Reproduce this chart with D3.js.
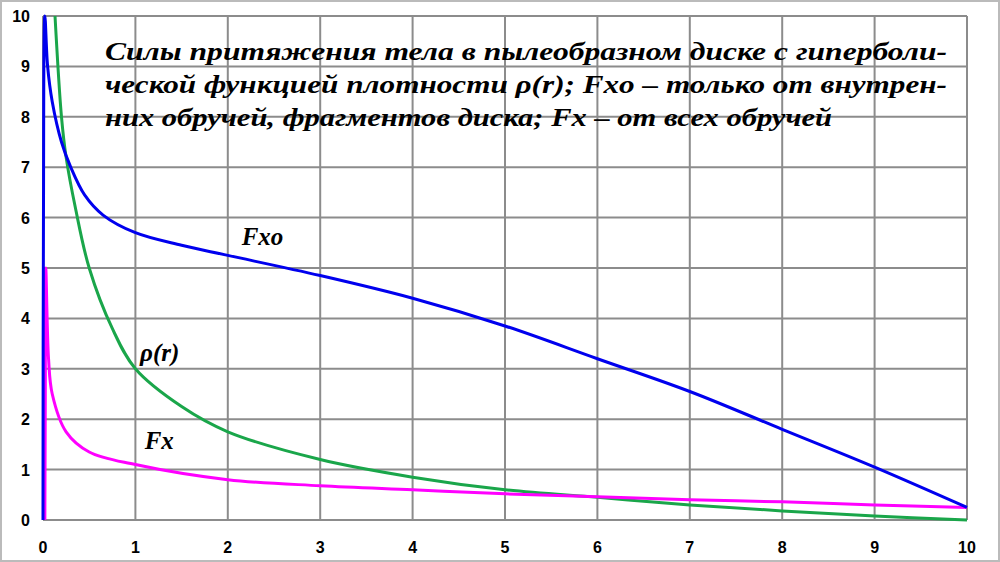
<!DOCTYPE html>
<html><head><meta charset="utf-8">
<script src="https://cdn.jsdelivr.net/npm/d3@7"></script>
<style>body{margin:0;background:#fff}</style>
</head><body><div id="chart"></div>
<script>
// values
const fxoX = [0, 0.005, 0.02, 0.05, 0.1, 0.2, 0.3, 0.45, 0.65, 1, 1.5, 2, 3, 4, 5, 6, 7, 8, 9, 10];
const fxoY = [0, 6, 10, 9, 8.3, 7.5, 7.0, 6.45, 6.05, 5.7, 5.45, 5.25, 4.85, 4.4, 3.85, 3.2, 2.55, 1.8, 1.05, 0.25];
const rhoX = [0.13, 0.2, 0.25, 0.35, 0.5, 0.75, 1, 1.5, 2, 3, 4, 5, 6, 7, 8, 9, 10];
const rhoY = [10, 8.0, 7.2, 6.2, 5.0, 3.8, 3.0, 2.25, 1.75, 1.2, 0.85, 0.6, 0.45, 0.3, 0.18, 0.08, 0];
const fxX = [0.02, 0.025, 0.03, 0.06, 0.1, 0.25, 0.5, 1, 2, 3, 4, 5, 6, 7, 8, 9, 10];
const fxY = [0, 2.5, 5, 3.2, 2.5, 1.75, 1.35, 1.1, 0.8, 0.68, 0.6, 0.52, 0.46, 0.4, 0.36, 0.3, 0.25];
const ticks = d3.range(0, 11);
const titleLines = [
  "Силы притяжения тела в пылеобразном диске с гиперболи-",
  "ческой функцией плотности ρ(r); Fxo – только от внутрен-",
  "них обручей, фрагментов диска; Fx – от всех обручей"
];

const W = 1000, H = 562;
const svg = d3.select('#chart').append('svg').attr('width', W).attr('height', H);
svg.append('rect').attr('x', 1).attr('y', 1).attr('width', W - 2).attr('height', H - 2)
  .attr('fill', '#fff').attr('stroke', '#bbb').attr('stroke-width', 2);

const x = d3.scaleLinear().domain([0, 10]).range([43, 967]);
const y = d3.scaleLinear().domain([0, 10]).range([520, 16]);

const g = svg.append('g');
g.selectAll('.vx').data(ticks).enter().append('line')
  .attr('x1', d => x(d)).attr('x2', d => x(d)).attr('y1', y(0)).attr('y2', y(10))
  .attr('stroke', '#8c8c8c').attr('stroke-width', 2);
g.selectAll('.hy').data(ticks).enter().append('line')
  .attr('x1', x(0)).attr('x2', x(10)).attr('y1', d => y(d)).attr('y2', d => y(d))
  .attr('stroke', '#8c8c8c').attr('stroke-width', 2);

g.selectAll('.xl').data(ticks).enter().append('text')
  .attr('x', d => x(d)).attr('y', 553).attr('text-anchor', 'middle')
  .attr('font-family', 'Liberation Sans, Arial').attr('font-weight', 'bold').attr('font-size', 16)
  .text(d => d);
g.selectAll('.yl').data(ticks).enter().append('text')
  .attr('x', 30).attr('y', d => y(d) + 6).attr('text-anchor', 'end')
  .attr('font-family', 'Liberation Sans, Arial').attr('font-weight', 'bold').attr('font-size', 16)
  .text(d => d);

const line = d3.line().x(d => x(d[0])).y(d => y(d[1])).curve(d3.curveCatmullRom.alpha(0.5));
function curve(xs, ys, color) {
  g.append('path').datum(xs.map((v, i) => [v, ys[i]]))
    .attr('d', line).attr('fill', 'none').attr('stroke', color).attr('stroke-width', 3);
}
curve(rhoX, rhoY, '#1aa64a');
curve(fxX, fxY, '#ff00ff');
curve(fxoX, fxoY, '#0000ee');

const lab = (t, px, py) => g.append('text').attr('x', x(px)).attr('y', y(py))
  .attr('font-family', 'Liberation Serif, Times New Roman').attr('font-style', 'italic')
  .attr('font-weight', 'bold').attr('font-size', 25).text(t);
lab('Fxo', 2.15, 5.45);
lab('ρ(r)', 1.05, 3.15);
lab('Fx', 1.1, 1.4);

g.selectAll('.tt').data(titleLines).enter().append('text')
  .attr('x', 105).attr('y', (d, i) => 60 + i * 33)
  .attr('font-family', 'Liberation Serif, Times New Roman').attr('font-style', 'italic')
  .attr('font-weight', 'bold').attr('font-size', 26)
  .attr('textLength', (d, i) => i === 2 ? 727 : 842).attr('lengthAdjust', 'spacingAndGlyphs')
  .text(d => d);
</script></body></html>
